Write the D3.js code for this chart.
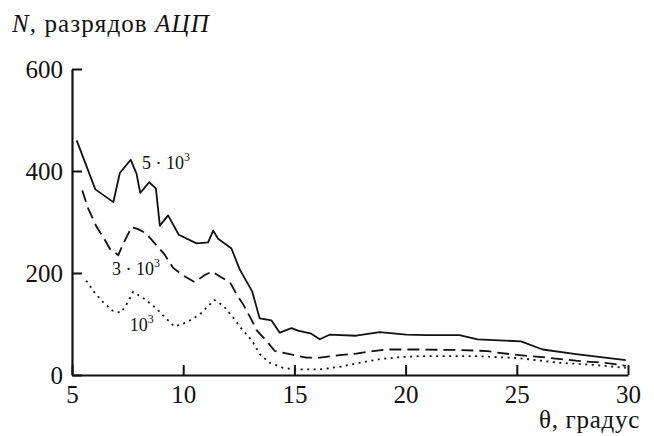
<!DOCTYPE html>
<html>
<head>
<meta charset="utf-8">
<script src="https://cdn.jsdelivr.net/npm/d3@7"></script>
<style>
  html, body { margin: 0; padding: 0; background: #fff; }
  svg { display: block; }
  svg text { font-family: "Liberation Serif", "Tinos", "Times New Roman", "DejaVu Serif", serif !important; fill: #111; }
</style>
</head>
<body>
<svg id="chart" width="654" height="436"></svg>
<script>
// ---- data (theta in degrees, N in ADC counts) ----
const theta5k = [5.21,6.05,6.86,7.15,7.64,7.9,8.07,8.47,8.77,8.95,9.32,9.8,10.6,11.12,11.35,11.57,12.17,12.54,13.1,13.44,13.97,14.34,14.87,15.16,15.76,16.14,16.58,17.78,18.83,20.03,20.9,22.42,23.24,25.19,26.16,27.66,29.9];
const n5k     = [460,364,339,396,422,395,357,378,366,293,313,275,258,260,283,267,248,207,164,111,107,83,92,87,81,70,79,77,84,79,78,78,70,66,50,41,29];

const theta3k = [5.46,5.73,6.11,6.41,6.71,7.08,7.3,7.68,7.98,8.35,8.8,9.15,9.55,10.0,10.52,10.97,11.3,11.65,12.1,12.39,12.69,13.05,13.3,13.74,14.12,14.79,15.54,16.14,17.04,17.78,18.53,19.13,20.63,22.42,23.69,24.07,25.12,26.16,27.66,29.16,29.9];
const n3k     = [362,326,290,270,247,235,257,290,286,277,254,237,210,195,182,196,203,193,182,159,139,110,88,67,47,41,34,34,39,42,47,50,50,49,47,44,39,35,28,23,18];

const theta1k = [5.64,5.99,6.37,6.82,7.2,7.5,7.75,8.3,8.8,9.3,9.6,10.15,10.75,11.4,11.8,12.24,12.6,13.1,13.44,13.89,14.49,15.01,16.14,17.04,17.93,18.83,19.73,20.63,23.18,25.12,26.91,28.41,29.9];
const n1k     = [185,163,144,126,122,142,163,148,130,108,95,103,119,147,136,113,92,67,41,24,14,11,11,16,24,31,35,37,37,33,24,20,14];

const seriesNames = ["5 · 10", "3 · 10", "10"];
const labelTheta  = [8.15, 6.8, 7.6];
const labelN      = [404, 196, 86];

const xTicks = [5, 10, 15, 20, 25, 30];
const yTicks = [0, 200, 400, 600];

// ---- layout ----
const FONT = '"Liberation Serif", "Tinos", "Times New Roman", "DejaVu Serif", serif';
const svg = d3.select("#chart");
const mLeft = 72, mRight = 628, mTop = 69, mBottom = 375;

const x = d3.scaleLinear().domain([5, 30]).range([mLeft, mRight]);
const y = d3.scaleLinear().domain([0, 600]).range([mBottom, mTop]);

// axes
const xAxis = d3.axisBottom(x).tickValues(xTicks).tickSize(-10).tickSizeOuter(0).tickPadding(10);
const yAxis = d3.axisLeft(y).tickValues(yTicks).tickSize(-10).tickSizeOuter(0).tickPadding(9);

const gx = svg.append("g").attr("transform", `translate(0,${mBottom})`).call(xAxis);
const gy = svg.append("g").attr("transform", `translate(${mLeft},0)`).call(yAxis);

[gx, gy].forEach(g => {
  g.attr("font-family", FONT).attr("font-size", 25);
  g.select(".domain").attr("stroke", "#111").attr("stroke-width", 2.2);
  g.selectAll(".tick line").attr("stroke", "#111").attr("stroke-width", 2);
  g.selectAll(".tick text").attr("fill", "#111");
});

// lines
const mk = (xs, ys) => xs.map((t, i) => [t, ys[i]]);
const line = d3.line().x(d => x(d[0])).y(d => y(d[1]));

svg.append("path").datum(mk(theta5k, n5k))
  .attr("d", line).attr("fill", "none").attr("stroke", "#111")
  .attr("stroke-width", 1.8).attr("stroke-linejoin", "round");

svg.append("path").datum(mk(theta3k, n3k))
  .attr("d", line).attr("fill", "none").attr("stroke", "#111")
  .attr("stroke-width", 1.8).attr("stroke-dasharray", "12,6");

svg.append("path").datum(mk(theta1k, n1k))
  .attr("d", line).attr("fill", "none").attr("stroke", "#111")
  .attr("stroke-width", 1.8).attr("stroke-dasharray", "2,4.5");

// series labels
seriesNames.forEach((s, i) => {
  const t = svg.append("text")
    .attr("x", x(labelTheta[i])).attr("y", y(labelN[i]))
    .attr("font-size", 18);
  t.append("tspan").text(s);
  t.append("tspan").text("3").attr("font-size", 12).attr("dy", -8);
});

// axis titles
const yt = svg.append("text").attr("x", 12).attr("y", 32)
  .attr("font-size", 25).attr("letter-spacing", 1.1);
yt.append("tspan").text("N").attr("font-style", "italic");
yt.append("tspan").text(", разрядов ");
yt.append("tspan").text("АЦП").attr("font-style", "italic");

svg.append("text").attr("x", 640).attr("y", 428)
  .attr("text-anchor", "end").attr("font-size", 25).attr("letter-spacing", 0.7)
  .text("θ, градус");
</script>
</body>
</html>
